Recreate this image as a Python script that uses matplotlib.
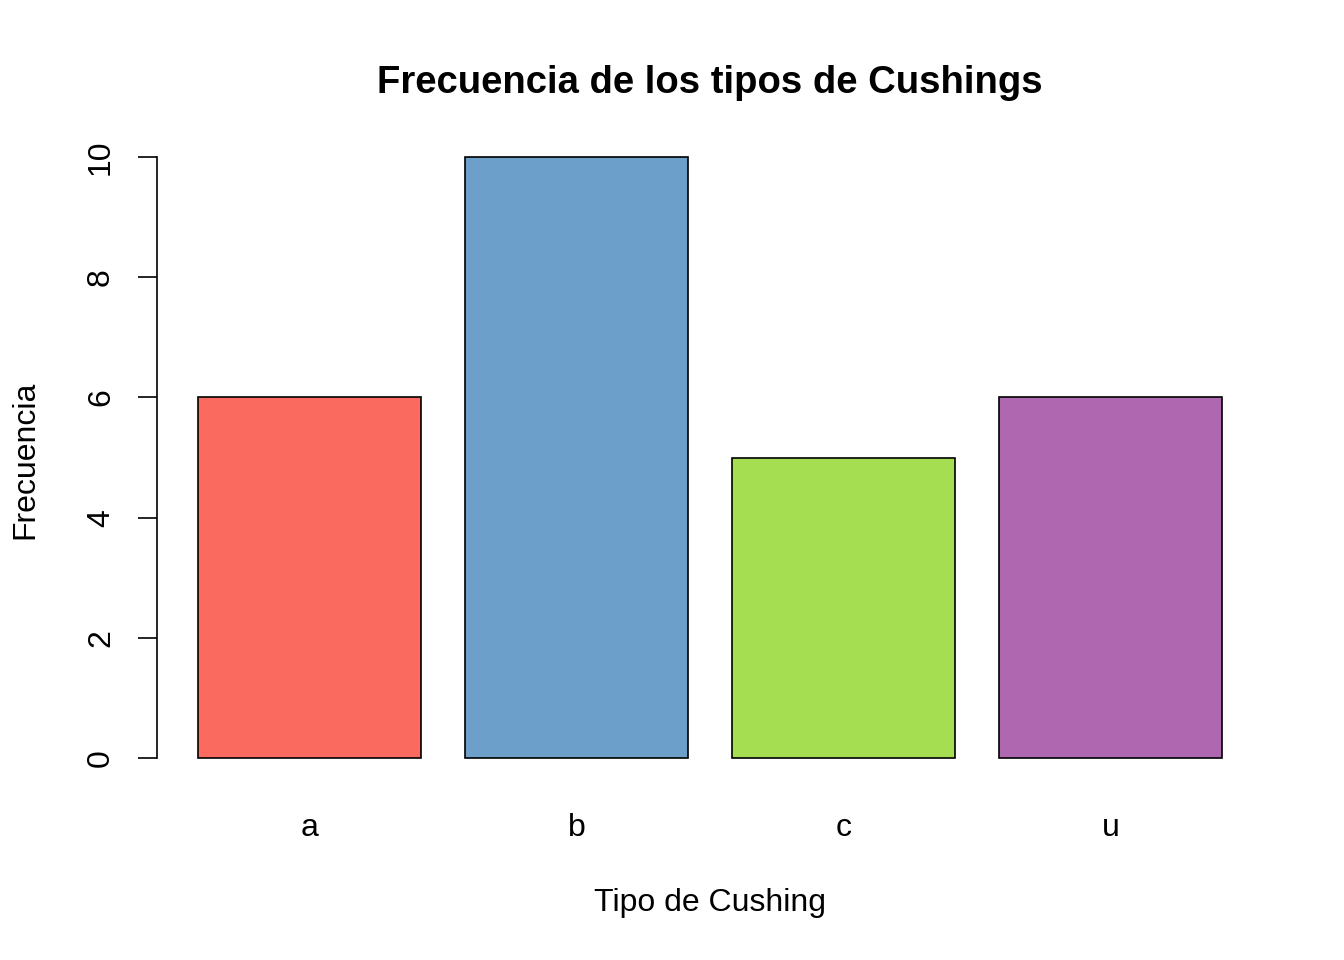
import numpy as np
from matplotlib import pyplot as plt

plt.rcParams['font.family'] = ['Liberation Sans', 'DejaVu Sans']

categorias = ['a', 'b', 'c', 'u']
frecuencias = [6, 10, 5, 6]
colores = ['#FA6A5E', '#6CA0CB', '#A6DE52', '#AF67B0']

fig = plt.figure(figsize=(13.44, 9.6), dpi=100)
ax = fig.add_axes([157 / 1344, 1 - 782 / 960, (1263 - 157) / 1344, (782 - 133) / 960])

# barplot al estilo R: ancho 1, espacio 0.2
pos = 0.2 + np.arange(len(categorias)) * 1.2 + 0.5
ax.bar(pos, frecuencias, width=1.0, color=colores, edgecolor='black', linewidth=1.2)

ax.set_xlim(0.016, 4.984)
ax.set_ylim(-0.4, 10.4)

for s in ['top', 'right', 'bottom']:
    ax.spines[s].set_visible(False)
ax.spines['left'].set_bounds(0, 10)
ax.spines['left'].set_linewidth(1.2)

ax.set_yticks([0, 2, 4, 6, 8, 10])
ax.set_yticklabels(['0', '2', '4', '6', '8', '10'], rotation=90, va='center', fontsize=23)
ax.tick_params(axis='y', length=14, width=1.2, pad=15.5)
ax.set_xticks(pos)
ax.set_xticklabels(categorias, fontsize=23)
ax.tick_params(axis='x', length=0, pad=22)

fig.text(710 / 1344, 1 - 83 / 960, 'Frecuencia de los tipos de Cushings', ha='center', va='center',
         fontsize=27.5, fontweight='bold')
fig.text(710 / 1344, 1 - 903 / 960, 'Tipo de Cushing', ha='center', va='center', fontsize=23)
fig.text(25 / 1344, 1 - 460 / 960, 'Frecuencia', ha='center', va='center', rotation=90, fontsize=23)

plt.savefig('out.png', dpi=100)
